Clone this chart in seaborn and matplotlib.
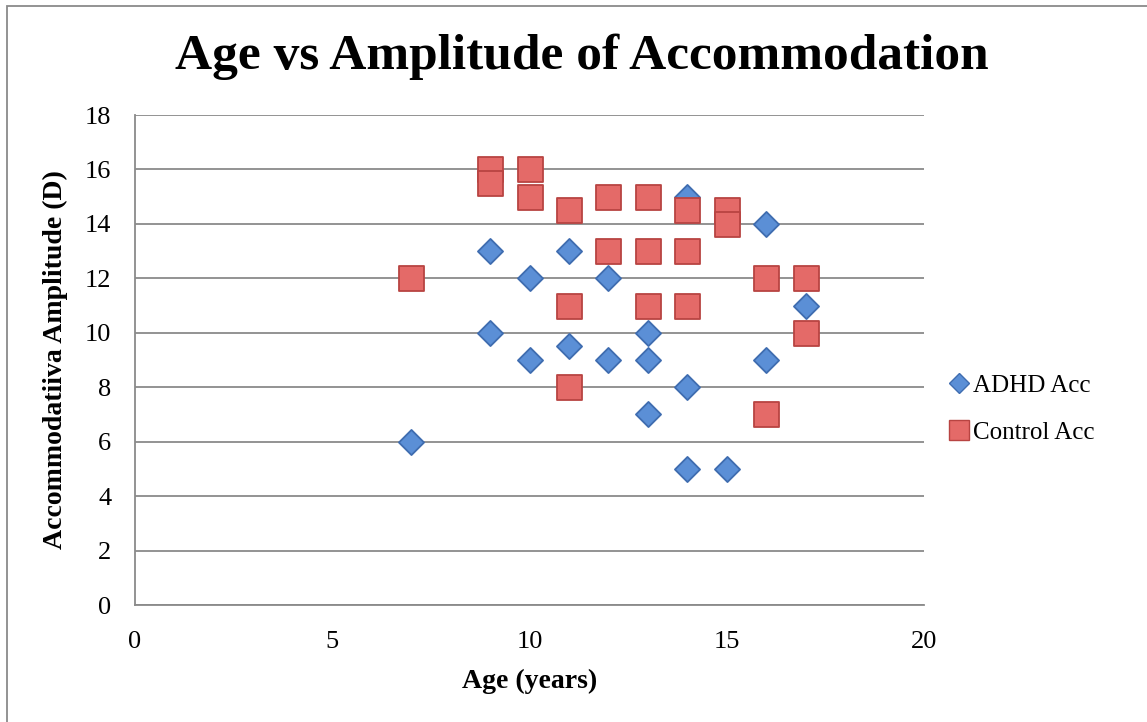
import matplotlib
matplotlib.use("Agg")
import matplotlib.pyplot as plt
import seaborn as sns
import pandas as pd
from matplotlib.patches import Rectangle
from matplotlib.lines import Line2D

adhd_age = [7, 9, 9, 10, 10, 11, 11, 12, 12, 13, 13, 13, 14, 14, 14, 15, 16, 16, 17]
adhd_acc = [6, 13, 10, 12, 9, 13, 9.5, 12, 9, 10, 9, 7, 15, 8, 5, 5, 14, 9, 11]
ctrl_age = [7, 9, 9, 10, 10, 11, 11, 11, 12, 12, 13, 13, 13, 14, 14, 14, 15, 15, 16, 16, 17, 17]
ctrl_acc = [12, 16, 15.5, 16, 15, 14.5, 11, 8, 15, 13, 15, 13, 11, 14.5, 13, 11, 14.5, 14, 12, 7, 12, 10]

series_names = ["ADHD Acc", "Control Acc"]
x_ticks = [0, 5, 10, 15, 20]
y_ticks = [0, 2, 4, 6, 8, 10, 12, 14, 16, 18]

sns.set_style("white")
plt.rcParams['font.family'] = ['Liberation Serif', 'DejaVu Serif']
plt.rcParams['text.color'] = 'black'
plt.rcParams['axes.labelcolor'] = 'black'
plt.rcParams['xtick.color'] = 'black'
plt.rcParams['ytick.color'] = 'black'

fig = plt.figure(figsize=(11.47, 7.22), dpi=100)
ax = fig.add_axes([135/1147, (722-605)/722, 789/1147, 490/722])

df_a = pd.DataFrame({"age": adhd_age, "acc": adhd_acc})
df_c = pd.DataFrame({"age": ctrl_age, "acc": ctrl_acc})

blue = "#5B8FD6"
blue_edge = "#3F6DB0"
red = "#E46A68"
red_edge = "#B84442"

sns.scatterplot(data=df_a, x="age", y="acc", marker="D", s=(12.8)**2,
                color=blue, edgecolor=blue_edge, linewidth=1.3, ax=ax, zorder=3)
sns.scatterplot(data=df_c, x="age", y="acc", marker="s", s=(18)**2,
                color=red, edgecolor=red_edge, linewidth=1.3, ax=ax, zorder=4)

ax.set_xlim(0, 20)
ax.set_ylim(0, 18)
ax.set_xticks(x_ticks)
ax.set_yticks(y_ticks)
ax.set_xticklabels([str(t) for t in x_ticks])
ax.set_yticklabels([str(t) for t in y_ticks])
ax.yaxis.grid(True, color="#8a8a8a", linewidth=1.3)
ax.xaxis.grid(False)
ax.set_axisbelow(True)
for s in ["top", "right"]:
    ax.spines[s].set_visible(False)
for s in ["left", "bottom"]:
    ax.spines[s].set_color("#8a8a8a")
    ax.spines[s].set_linewidth(1.3)
ax.tick_params(axis="y", which="major", length=5, width=1.3, color="#8a8a8a",
               labelcolor="black", labelsize=19, pad=12)
ax.tick_params(axis="x", which="major", length=0, labelcolor="black",
               labelsize=19, pad=19)
ax.set_xlabel("Age (years)", fontsize=20, fontweight="bold", labelpad=11)
ax.set_ylabel("Accommodatiiva Amplitude (D)", fontsize=20, fontweight="bold", labelpad=12)

fig.text(582/1147, 1 - 57/722, "Age vs Amplitude of Accommodation",
         ha="center", va="center", fontsize=37, fontweight="bold", color="black")

handles = [
    Line2D([0], [0], marker="D", linestyle="none", markersize=10,
           markerfacecolor=blue, markeredgecolor=blue_edge, markeredgewidth=1),
    Line2D([0], [0], marker="s", linestyle="none", markersize=14,
           markerfacecolor=red, markeredgecolor=red_edge, markeredgewidth=1),
]
fig.legend(handles, series_names, loc="center left",
           bbox_to_anchor=(928/1147, 1 - 409/722), frameon=False,
           fontsize=18, handlelength=0.7, handletextpad=0.2, labelspacing=1.0)

fig.patches.append(Rectangle((7/1147, -0.01), 1.0, 1 - 6/722 + 0.01,
                             transform=fig.transFigure, fill=False,
                             edgecolor="#8a8a8a", linewidth=1.3))

fig.savefig("out.png", dpi=100)
